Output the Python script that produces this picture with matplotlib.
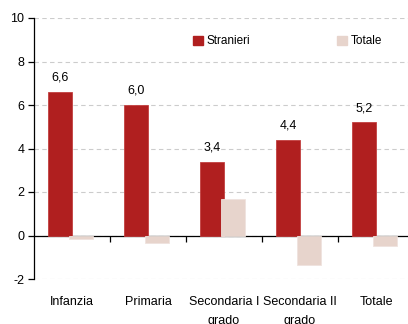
import matplotlib
matplotlib.use("Agg")
import matplotlib.pyplot as plt
import matplotlib.patches as mpatches
import numpy as np

categories = ["Infanzia", "Primaria", "Secondaria I\ngrado", "Secondaria II\ngrado", "Totale"]
stranieri = [6.6, 6.0, 3.4, 4.4, 5.2]
totale = [-0.15, -0.35, 1.7, -1.35, -0.5]
series_names = ["Stranieri", "Totale"]
y_ticks = [-2, 0, 2, 4, 6, 8, 10]

red = "#B01F1F"
light = "#E7D4CC"

plt.rcParams["font.family"] = ["Liberation Sans Narrow", "Liberation Sans", "DejaVu Sans"]

fig = plt.figure(figsize=(4.08, 3.24), dpi=100)
ax = fig.add_axes([34 / 408, 45 / 324, 380 / 408, 261 / 324])

x = np.arange(len(categories))
w = 0.32
ax.bar(x - 0.155, stranieri, w, color=red, edgecolor="#C24040", linewidth=0.6, zorder=2)
ax.bar(x + 0.12, totale, w, color=light, edgecolor="#EFE3DE", linewidth=0.6, zorder=3)

for xi, v in zip(x, stranieri):
    ax.annotate(f"{v:.1f}".replace(".", ","), (xi - 0.155, v), xytext=(0, 6),
                textcoords="offset points", ha="center", va="bottom", fontsize=9)

ax.set_xlim(-0.5, len(categories) - 0.5)
ax.set_ylim(-2, 10)
ax.set_yticks(y_ticks)
ax.set_yticklabels([str(t) for t in y_ticks], fontsize=9)
ax.yaxis.grid(True, color="#CCCCCC", linestyle=(0, (4, 3)), linewidth=0.8)
ax.set_axisbelow(True)

for s in ["top", "right"]:
    ax.spines[s].set_visible(False)
ax.spines["left"].set_color("black")
ax.spines["left"].set_linewidth(0.9)
ax.spines["bottom"].set_position(("data", 0))
ax.spines["bottom"].set_color("black")
ax.spines["bottom"].set_linewidth(0.9)
ax.spines["bottom"].set_zorder(1.5)

ax.tick_params(axis="y", direction="out", length=4, width=0.9, colors="black", pad=3)
ax.set_xticks(np.arange(0.5, len(categories) - 0.5, 1.0))
ax.set_xticklabels([])
ax.tick_params(axis="x", direction="out", length=4, width=0.9, colors="black")

for xi, lab in zip(x, categories):
    ax.annotate(lab, (xi, 0), xycoords=("data", "axes fraction"), xytext=(0, -12),
                textcoords="offset points", ha="center", va="top", fontsize=9,
                linespacing=1.8, annotation_clip=False)

handles = [mpatches.Patch(color=red, label=series_names[0]),
           mpatches.Patch(color=light, label=series_names[1])]
ax.legend(handles=handles, loc="center left", bbox_to_anchor=(0.405, 0.91), ncol=2,
          frameon=False, fontsize=8.5, handlelength=0.9, handleheight=0.9,
          handletextpad=0.3, columnspacing=7.3, borderaxespad=0)

fig.savefig("out.png", dpi=100)
